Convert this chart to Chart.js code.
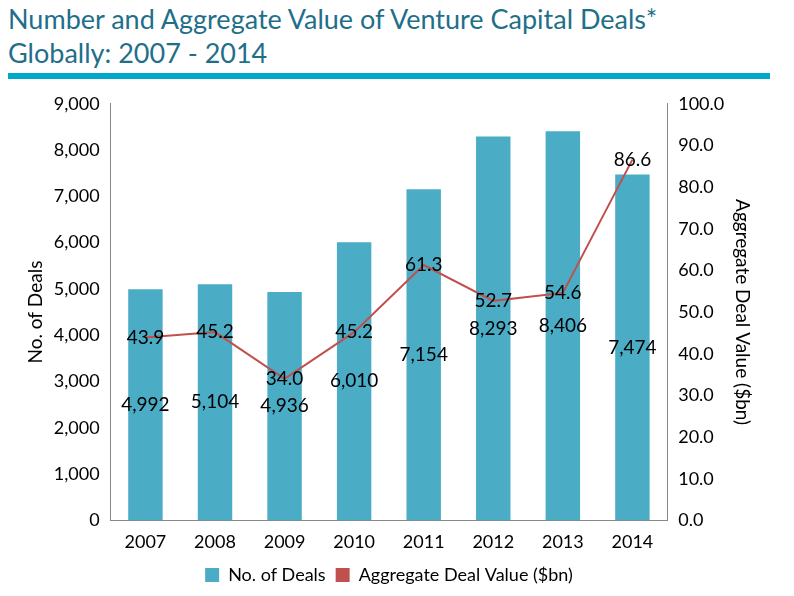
<!DOCTYPE html>
<html><head><meta charset="utf-8">
<script src="https://cdn.jsdelivr.net/npm/chart.js@4"></script>
<style>
body{margin:0;width:794px;height:596px;background:#fff;font-family:"Lato","DejaVu Sans",sans-serif;}
#t{position:absolute;left:8px;top:2px;color:#1f6f8b;font-size:27px;line-height:34px;}
#rule{position:absolute;left:8px;top:73px;width:762px;height:6px;background:#00a9c9;}
#w{position:absolute;left:0;top:90px;width:794px;height:506px;}
</style></head><body>
<div id="t">Number and Aggregate Value of Venture Capital Deals*<br>Globally: 2007 - 2014</div>
<div id="rule"></div>
<div id="w"><canvas id="c"></canvas></div>
<script>
const years=["2007","2008","2009","2010","2011","2012","2013","2014"];
const deals=[4992,5104,4936,6010,7154,8293,8406,7474];
const value=[43.9,45.2,34.0,45.2,61.3,52.7,54.6,86.6];
const labelPlugin={id:'lbl',afterDatasetsDraw(ch){const c=ch.ctx;c.save();c.font='19px Lato, "DejaVu Sans"';c.fillStyle='#000';c.textAlign='center';c.textBaseline='middle';
ch.getDatasetMeta(0).data.forEach((b,i)=>{c.fillText(deals[i].toLocaleString('en-US'),b.x,(b.y+b.base)/2);});
ch.getDatasetMeta(1).data.forEach((p,i)=>{c.fillText(value[i].toFixed(1),p.x,p.y);});c.restore();}};
new Chart(document.getElementById('c'),{type:'bar',data:{labels:years,datasets:[
{type:'bar',label:'No. of Deals',data:deals,backgroundColor:'#4bacc6',yAxisID:'y',barPercentage:0.55,categoryPercentage:0.9,order:2},
{type:'line',label:'Aggregate Deal Value ($bn)',data:value,borderColor:'#c0504d',backgroundColor:'#c0504d',borderWidth:2,pointRadius:0,yAxisID:'y1',order:1}]},
options:{responsive:true,maintainAspectRatio:false,animation:false,
layout:{padding:{left:20,right:36,top:13,bottom:2}},
plugins:{legend:{position:'bottom',labels:{font:{size:18,family:'Lato'},color:'#000',boxWidth:14,boxHeight:14,usePointStyle:false,
generateLabels(ch){return [{text:'No. of Deals',fillStyle:'#4bacc6',strokeStyle:'#4bacc6',lineWidth:0,datasetIndex:0},{text:'Aggregate Deal Value ($bn)',fillStyle:'#c0504d',strokeStyle:'#c0504d',lineWidth:0,datasetIndex:1}];}}},tooltip:{enabled:false}},
scales:{x:{grid:{display:false,drawTicks:true},border:{color:'#888'},ticks:{color:'#000',font:{size:18,family:'Lato'}}},
y:{min:0,max:9000,ticks:{stepSize:1000,color:'#000',font:{size:18,family:'Lato'},callback:v=>v.toLocaleString('en-US')},grid:{display:false},border:{color:'#888'},title:{display:true,text:'No. of Deals',color:'#000',font:{size:19,family:'Lato'}}},
y1:{position:'right',min:0,max:100,ticks:{stepSize:10,color:'#000',font:{size:18,family:'Lato'},callback:v=>v.toFixed(1)},grid:{display:false},border:{color:'#888'},title:{display:true,text:'Aggregate Deal Value ($bn)',color:'#000',font:{size:19,family:'Lato'}}}}},
plugins:[labelPlugin]});
</script></body></html>
